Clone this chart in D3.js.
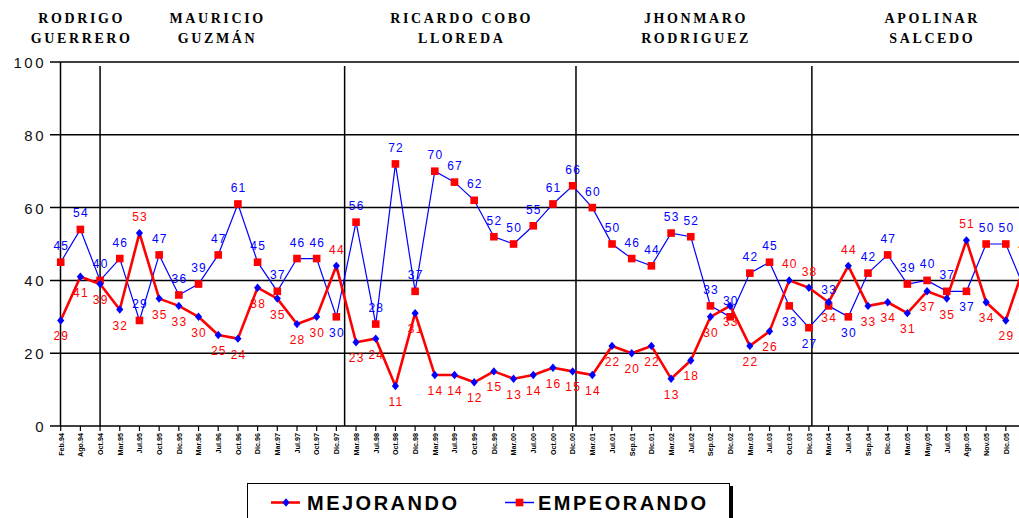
<!DOCTYPE html>
<html><head><meta charset="utf-8">
<script src="https://cdn.jsdelivr.net/npm/d3@7"></script>
<style>html,body{margin:0;padding:0;background:#fff;overflow:hidden}</style>
</head><body><svg id="c" width="1019" height="518"></svg>
<script>
const categories = ["Feb.94","Ago.94","Oct.94","Mar.95","Jul.95","Oct.95","Dic.95","Mar.96","Jul.96","Oct.96","Dic.96","Mar.97","Jul.97","Oct.97","Dic.97","Mar.98","Jul.98","Oct.98","Dic.98","Mar.99","Jul.99","Oct.99","Dic.99","Mar.00","Jul.00","Oct.00","Dic.00","Mar.01","Jul.01","Sep.01","Dic.01","Mar.02","Jul.02","Sep.02","Dic.02","Mar.03","Jul.03","Oct.03","Dic.03","Mar.04","Jul.04","Sep.04","Dic.04","Mar.05","May.05","Jul.05","Ago.05","Nov.05","Dic.05","Mar.06"];
const mejorando  = [29,41,39,32,53,35,33,30,25,24,38,35,28,30,44,23,24,11,31,14,14,12,15,13,14,16,15,14,22,20,22,13,18,30,33,22,26,40,38,34,44,33,34,31,37,35,51,34,29,45];
const empeorando = [45,54,40,46,29,47,36,39,47,61,45,37,46,46,30,56,28,72,37,70,67,62,52,50,55,61,66,60,50,46,44,53,52,33,30,42,45,33,27,33,30,42,47,39,40,37,37,50,50,37];
const administrations = [["RODRIGO","GUERRERO"],["MAURICIO","GUZMÁN"],["RICARDO COBO","LLOREDA"],["JHONMARO","RODRIGUEZ"],["APOLINAR","SALCEDO"]];
const adminCenters = [1, 7.9, 20.3, 32.2, 44.2];      // in category-index units
const termBreaks = [2, 14.42, 26.17, 38.15];          // in category-index units
const yTicks = [0,20,40,60,80,100];
const seriesNames = ["MEJORANDO","EMPEORANDO"];

const RED = "#ff0000", BLUE = "#0000ff";
const svg = d3.select("#c");
const x = d3.scaleLinear().domain([0, categories.length - 1]).range([60.7, 60.7 + 19.69 * (categories.length - 1)]);
const y = d3.scaleLinear().domain([0, 100]).range([426, 62]);
const right = 1019;

// grid lines + left ticks
svg.append("g").selectAll("line").data(yTicks).join("line")
  .attr("x1", 50).attr("x2", right).attr("y1", d => y(d)).attr("y2", d => y(d))
  .attr("stroke", "#000").attr("stroke-width", 1.5);
svg.append("g").selectAll("text").data(yTicks).join("text")
  .attr("x", 46).attr("y", d => y(d) + 6)
  .attr("text-anchor", "end").attr("font-family", "Liberation Sans, Arial, sans-serif")
  .attr("font-size", 15).attr("letter-spacing", "2.5px").attr("fill", "#111")
  .text(d => d);
// y axis
svg.append("line").attr("x1", 60.5).attr("x2", 60.5).attr("y1", y(100)).attr("y2", y(0))
  .attr("stroke", "#000").attr("stroke-width", 1.5);
// x ticks
svg.append("g").selectAll("line").data(categories).join("line")
  .attr("x1", (d, i) => x(i)).attr("x2", (d, i) => x(i)).attr("y1", y(0)).attr("y2", y(0) + 5)
  .attr("stroke", "#000").attr("stroke-width", 1.2);
// x labels (only those inside the visible frame)
svg.append("g").selectAll("text").data(categories.filter((d, i) => x(i) + 3 < right)).join("text")
  .attr("transform", (d, i) => `translate(${x(i) + 2.8},${y(0) + 7}) rotate(-90)`)
  .attr("text-anchor", "end").attr("font-family", "Liberation Sans, Arial, sans-serif")
  .attr("font-size", 7.2).attr("font-weight", "bold").attr("fill", "#000")
  .text(d => d);
// term separators
svg.append("g").selectAll("line").data(termBreaks).join("line")
  .attr("x1", d => x(d)).attr("x2", d => x(d)).attr("y1", y(100) + 4).attr("y2", y(0))
  .attr("stroke", "#000").attr("stroke-width", 1.5);
// administration titles
const tg = svg.append("g").attr("font-family", "Liberation Serif, Times New Roman, serif")
  .attr("font-weight", "bold").attr("font-size", 14).attr("letter-spacing", "2.6px")
  .attr("text-anchor", "middle").attr("fill", "#000");
administrations.forEach((a, k) => {
  a.forEach((line, j) => {
    tg.append("text").attr("x", x(adminCenters[k]) + 1.3).attr("y", 23 + j * 20).text(line);
  });
});

// lines
const lineGen = d3.line().x((d, i) => x(i)).y(d => y(d));
svg.append("path").datum(empeorando).attr("d", lineGen)
  .attr("fill", "none").attr("stroke", BLUE).attr("stroke-width", 1.2);
svg.append("path").datum(mejorando).attr("d", lineGen)
  .attr("fill", "none").attr("stroke", RED).attr("stroke-width", 2.6).attr("stroke-linejoin", "round");
// markers
svg.append("g").selectAll("rect").data(empeorando).join("rect")
  .attr("x", (d, i) => x(i) - 3.8).attr("y", d => y(d) - 3.8)
  .attr("width", 7.6).attr("height", 7.6).attr("fill", RED);
const diamond = "M0,-4.2L3.6,0L0,4.2L-3.6,0Z";
svg.append("g").selectAll("path").data(mejorando).join("path")
  .attr("transform", (d, i) => `translate(${x(i)},${y(d)})`)
  .attr("d", diamond).attr("fill", BLUE);

// value labels
const mAbove = i => mejorando[i] - empeorando[i] > 3;
const eAbove = i => !mAbove(i) || i === 4;
const lab = svg.append("g").attr("font-family", "Liberation Sans, Arial, sans-serif")
  .attr("font-size", 12).attr("letter-spacing", "1.2px").attr("text-anchor", "middle");
lab.selectAll("text.e").data(empeorando).join("text").attr("class", "e")
  .attr("x", (d, i) => x(i) + 0.6)
  .attr("y", (d, i) => eAbove(i) ? y(d) - 12 : y(d) + 20)
  .attr("fill", BLUE).text(d => d);
lab.selectAll("text.m").data(mejorando).join("text").attr("class", "m")
  .attr("x", (d, i) => x(i) + 0.6)
  .attr("y", (d, i) => mAbove(i) ? y(d) - 12 : y(d) + 20)
  .attr("fill", RED).text(d => d);

// legend
const lg = svg.append("g");
lg.append("rect").attr("x", 250).attr("y", 486).attr("width", 483).attr("height", 60).attr("fill", "#000");
lg.append("rect").attr("x", 247.5).attr("y", 483.5).attr("width", 482).attr("height", 60)
  .attr("fill", "#fff").attr("stroke", "#000").attr("stroke-width", 1);
const legendItems = [
  {name: seriesNames[0], line: RED, lw: 2.6, x0: 271, tx: 307},
  {name: seriesNames[1], line: BLUE, lw: 1.5, x0: 505, tx: 538}
];
legendItems.forEach((it, k) => {
  lg.append("line").attr("x1", it.x0).attr("x2", it.x0 + 29).attr("y1", 502.5).attr("y2", 502.5)
    .attr("stroke", it.line).attr("stroke-width", it.lw);
  if (k === 0) lg.append("path").attr("transform", `translate(${it.x0 + 15},502.5)`).attr("d", diamond).attr("fill", BLUE);
  else lg.append("rect").attr("x", it.x0 + 14.5 - 3.8).attr("y", 502.5 - 3.8).attr("width", 7.6).attr("height", 7.6).attr("fill", RED);
  lg.append("text").attr("x", it.tx).attr("y", 509.5)
    .attr("font-family", "Liberation Sans, Arial, sans-serif").attr("font-weight", "bold")
    .attr("font-size", 20).attr("letter-spacing", "2.5px").attr("fill", "#000").text(it.name);
});
</script></body></html>
